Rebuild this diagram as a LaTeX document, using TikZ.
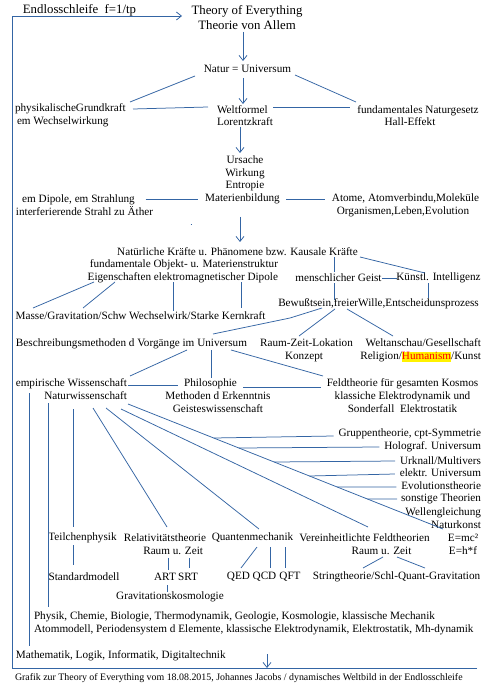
\documentclass[tikz,border=0pt]{standalone}
\usepackage{fontspec}
\setmainfont{Liberation Serif}
\usetikzlibrary{arrows.meta}
\definecolor{ln}{HTML}{3465A4}
\newcommand\nfont{\fontsize{11.2pt}{12.7pt}\selectfont}
\newcommand\tfont{\fontsize{12.8pt}{15pt}\selectfont}
\newcommand\ffont{\fontsize{9.9pt}{11pt}\selectfont}
\newcommand\hlt[1]{{\setlength{\fboxsep}{0pt}\colorbox{yellow}{\vphantom{Hg}\textcolor{red}{#1}}}}
\begin{document}
\begin{tikzpicture}[x=1pt,y=-1pt,
  every node/.style={inner sep=1pt,outer sep=0pt,font=\nfont},
  lk/.style={draw=ln,line width=0.75pt},
  ar/.style={lk,-{Straight Barb[length=5pt,width=8pt,line width=0.75pt]}}]
\useasboundingbox[fill=white] (0,0) rectangle (503,692);

% nodes
\node (endl) [font=\tfont] at (79.5,10) {Endlosschleife\ \ f=1/tp};
\node (title) [font=\tfont,align=center] at (247,17.5) {Theory of Everything\\Theorie von Allem};
\node (natur) at (247.5,69) {Natur = Universum};
\node (phys) [anchor=west,align=left] at (14,115.5) {physikalischeGrundkraft\\\hspace*{2pt}em Wechselwirkung};
\node (weltf) [anchor=west,align=left] at (216,115.5) {Weltformel\\Lorentzkraft};
\node (fund) [align=center] at (418,115.5) {fundamentales Naturgesetz\\Hall-Effekt\hspace*{16pt}};
\node (urs) [align=center] at (245,173.5) {Ursache\\Wirkung\\Entropie};
\node (mat) at (242.5,199) {Materienbildung};
\node (emdip) [align=center] at (84.5,205.5) {em Dipole, em Strahlung\hspace*{12pt}\\interferierende Strahl zu Äther};
\node (atome) [align=center] at (405.5,205.5) {Atome, Atomverbindu,Moleküle\\Organismen,Leben,Evolution\hspace*{5pt}};
\node (nat) at (237.5,252) {Natürliche Kräfte u. Phänomene bzw. Kausale Kräfte};
\node (fundo) [anchor=east,align=right] at (279,271.5) {fundamentale Objekt- u. Materienstruktur\\Eigenschaften elektromagnetischer Dipole};
\node (geist) at (338.5,278) {menschlicher Geist};
\node (ki) at (438.5,278) {Künstl. Intelligenz};
\node (bew) at (378.5,304) {Bewußtsein,freierWille,Entscheidunsprozess};
\node (masse) [anchor=west] at (14.7,316) {Masse/Gravitation/Schw Wechselwirk/Starke Kernkraft};
\node (besch) [anchor=west] at (15,344) {Beschreibungsmethoden d Vorgänge im Universum};
\node (raum) [align=center] at (306.5,350.5) {Raum-Zeit-Lokation\\Konzept\hspace*{5pt}};
\node (welt) [anchor=east,align=right] at (482,350.5) {Weltanschau/Gesellschaft\\Religion/\hlt{Humanism}/Kunst};
\node (emp) [anchor=east,align=right] at (128,389) {empirische Wissenschaft\\Naturwissenschaft};
\node (phil) [align=center] at (218,395.5) {Philosophie\hspace*{15pt}\\Methoden d Erkenntnis\\Geisteswissenschaft};
\node (feld) [align=center] at (402.5,395.5) {Feldtheorie für gesamten Kosmos\\klassiche Elektrodynamik und\\Sonderfall\ \ Elektrostatik};
\node (grup) [anchor=east] at (482,434) {Gruppentheorie, cpt-Symmetrie};
\node (holo) [anchor=east] at (482,447) {Holograf. Universum};
\node (urk) [anchor=east] at (482,461) {Urknall/Multivers};
\node (elek) [anchor=east] at (482,473) {elektr. Universum};
\node (evol) [anchor=east] at (482,486) {Evolutionstheorie};
\node (sonst) [anchor=east] at (482,499) {sonstige Theorien};
\node (welle) [anchor=east,align=right] at (482,518.5) {Wellengleichung\\Naturkonst};
\node (emc) [align=center] at (463,544.5) {E=mc²\\E=h*f};
\node (teil) at (82.5,538) {Teilchenphysik};
\node (rel) [anchor=east,align=right] at (207,544.5) {Relativitätstheorie\\Raum u. Zeit\hspace*{3pt}};
\node (qm) at (252.5,538) {Quantenmechanik};
\node (ver) [align=center] at (364.5,544.5) {Vereinheitlichte Feldtheorien\\\hspace*{34pt}Raum u. Zeit};
\node (std) at (84,577) {Standardmodell};
\node (art) at (165,577) {ART};
\node (srt) at (188,577) {SRT};
\node (qed) at (238.5,577) {QED};
\node (qcd) at (264.5,577) {QCD};
\node (qft) at (290,577) {QFT};
\node (string) at (396.5,577) {Stringtheorie/Schl-Quant-Gravitation};
\node (grav) at (170,597) {Gravitationskosmologie};
\node (physik) [anchor=west,align=left] at (33,623) {Physik, Chemie, Biologie, Thermodynamik, Geologie, Kosmologie, klassische Mechanik\\Atommodell, Periodensystem d Elemente, klassische Elektrodynamik, Elektrostatik, Mh-dynamik};
\node (math) [anchor=west] at (15,656) {Mathematik, Logik, Informatik, Digitaltechnik};
\node (foot) [anchor=west,font=\ffont] at (14,678) {Grafik zur Theory of Everything vom 18.08.2015, Johannes Jacobs / dynamisches Weltbild in der Endlosschleife};

% free coordinates
\coordinate (loopA) at (477,668);
\coordinate (loopB) at (12,668);
\coordinate (loopC) at (12,16);
\coordinate (loopD) at (182,16);
\coordinate (downA) at (267,654);
\coordinate (downB) at (267,668);

% loop
\draw[lk] (loopA) -- (loopB) -- (loopC);
\draw[ar] (loopC) -- (loopD);
\draw[ar] (downA) -- (downB);

% connectors
\draw[ar] ([shift={(-4,14.5)}]title.center) -- ([shift={(-4.5,-8)}]natur.center);
\draw[lk] ([shift={(-52.5,7)}]natur.center) -- ([shift={(116,-13.5)}]phys.west);
\draw[lk] ([shift={(47.5,6)}]natur.center) -- ([shift={(-62,-13.5)}]fund.center);
\draw[ar] ([shift={(-4.5,9)}]natur.center) -- ([shift={(27,-11.5)}]weltf.west);
\draw[lk] ([shift={(119,-6.5)}]phys.west) -- ([shift={(-8,-8.5)}]weltf.west);
\draw[lk] ([shift={(57,-8.5)}]weltf.west) -- ([shift={(-68,-8.5)}]fund.center);
\draw[ar] ([shift={(24,11.5)}]weltf.west) -- ([shift={(-5,-20.5)}]urs.center);
\draw[lk] ([shift={(61,-6.5)}]emdip.center) -- ([shift={(-44.5,0)}]mat.center);
\draw[lk] ([shift={(43.5,0)}]mat.center) -- ([shift={(-80.5,-6.5)}]atome.center);
\draw[lk] ([shift={(-52,25)}]mat.center) -- ([shift={(-50.5,25)}]mat.center);
\draw[ar] ([shift={(-2.5,18)}]mat.center) -- ([shift={(2.5,-10)}]nat.center);
\draw[lk] ([shift={(122.5,5)}]nat.center) -- ([shift={(-13.5,-5)}]ki.center);
\draw[lk] ([shift={(96.5,5)}]nat.center) -- ([shift={(-4.5,-6)}]geist.center);
\draw[lk] ([shift={(43.5,0)}]geist.center) -- ([shift={(-41.5,0)}]ki.center);
\draw[lk] ([shift={(-10.5,5)}]ki.center) -- ([shift={(49.5,-6)}]bew.center);
\draw[lk] ([shift={(-4.5,5)}]geist.center) -- ([shift={(-44.5,-4)}]bew.center);
\draw[lk] ([shift={(-185,10.5)}]fundo.east) -- ([shift={(18.3,-8)}]masse.west);
\draw[lk] ([shift={(-164,10.5)}]fundo.east) -- ([shift={(68.3,-8)}]masse.west);
\draw[lk] ([shift={(-106,10.5)}]fundo.east) -- ([shift={(158.3,-5)}]masse.west);
\draw[lk] ([shift={(-38,10.5)}]fundo.east) -- ([shift={(226.3,-8)}]masse.west);
\draw[lk] ([shift={(-56.5,4)}]bew.center) -- ([shift={(-88.5,14)}]bew.center) -- ([shift={(198,-10)}]besch.west);
\draw[lk] ([shift={(-43.5,5)}]bew.center) -- ([shift={(-7.5,-14.5)}]raum.center);
\draw[lk] ([shift={(-31.5,5)}]bew.center) -- ([shift={(-89,-14.5)}]welt.east);
\draw[lk] ([shift={(172,6)}]besch.west) -- ([shift={(2,-13)}]emp.east);
\draw[lk] ([shift={(196,6)}]besch.west) -- ([shift={(-7,-17.5)}]phil.center);
\draw[lk] ([shift={(216,6)}]besch.west) -- ([shift={(-79.5,-19.5)}]feld.center);
\draw[lk] ([shift={(0,-4)}]emp.east) -- ([shift={(-40,-10.5)}]phil.center);
\draw[lk] ([shift={(25,-8.5)}]phil.center) -- ([shift={(-81.5,-8.5)}]feld.center);
\draw[lk] ([shift={(-99,4)}]emp.east) -- ([shift={(14,-10)}]math.west);
\draw[lk] ([shift={(-80,14)}]emp.east) -- ([shift={(15,-16)}]physik.west);
\draw[lk] ([shift={(-55,20)}]emp.east) -- ([shift={(-9.5,-11)}]teil.center);
\draw[lk] ([shift={(-35,19)}]emp.east) -- ([shift={(-40,-17.5)}]rel.east);
\draw[lk] ([shift={(-22,19)}]emp.east) -- ([shift={(6.5,-9)}]qm.center);
\draw[lk] ([shift={(-7,20)}]emp.east) -- ([shift={(3.5,-17.5)}]ver.center);
\draw[lk] ([shift={(0,15)}]emp.east) --
  coordinate[pos=0.272] (j1) coordinate[pos=0.352] (j2) coordinate[pos=0.464] (j3)
  coordinate[pos=0.576] (j4) coordinate[pos=0.664] (j5) coordinate[pos=0.76] (j6)
  ([shift={(-20,-15.5)}]emc.center);
\draw[lk] ([shift={(-4,2)}]grup.west) -- (j1);
\draw[lk] ([shift={(-4,0)}]holo.west) -- (j2);
\draw[lk] ([shift={(-4,0)}]urk.west) -- (j3);
\draw[lk] ([shift={(-4,1)}]elek.west) -- (j4);
\draw[lk] ([shift={(-4,1)}]evol.west) -- (j5);
\draw[lk] ([shift={(-3,0)}]sonst.west) -- (j6);
\draw[lk] ([shift={(-9.5,7)}]teil.center) -- ([shift={(-11,-12)}]std.center);
\draw[lk] ([shift={(-39,13.5)}]rel.east) -- ([shift={(3,-7)}]art.center);
\draw[lk] ([shift={(-18,13.5)}]rel.east) -- ([shift={(1,-9)}]srt.center);
\draw[lk] ([shift={(2,8)}]art.center) -- ([shift={(-3,-5)}]grav.center);
\draw[lk] ([shift={(4.5,9)}]qm.center) -- ([shift={(2.5,-9)}]qed.center);
\draw[lk] ([shift={(17.5,9)}]qm.center) -- ([shift={(5.5,-9)}]qcd.center);
\draw[lk] ([shift={(32.5,9)}]qm.center) -- ([shift={(-5,-9)}]qft.center);
\draw[lk] ([shift={(18.5,12.5)}]ver.center) -- ([shift={(-33.5,-9)}]string.center);
\draw[lk] ([shift={(32.5,12.5)}]ver.center) -- ([shift={(28.5,-9)}]string.center);
\end{tikzpicture}
\end{document}
